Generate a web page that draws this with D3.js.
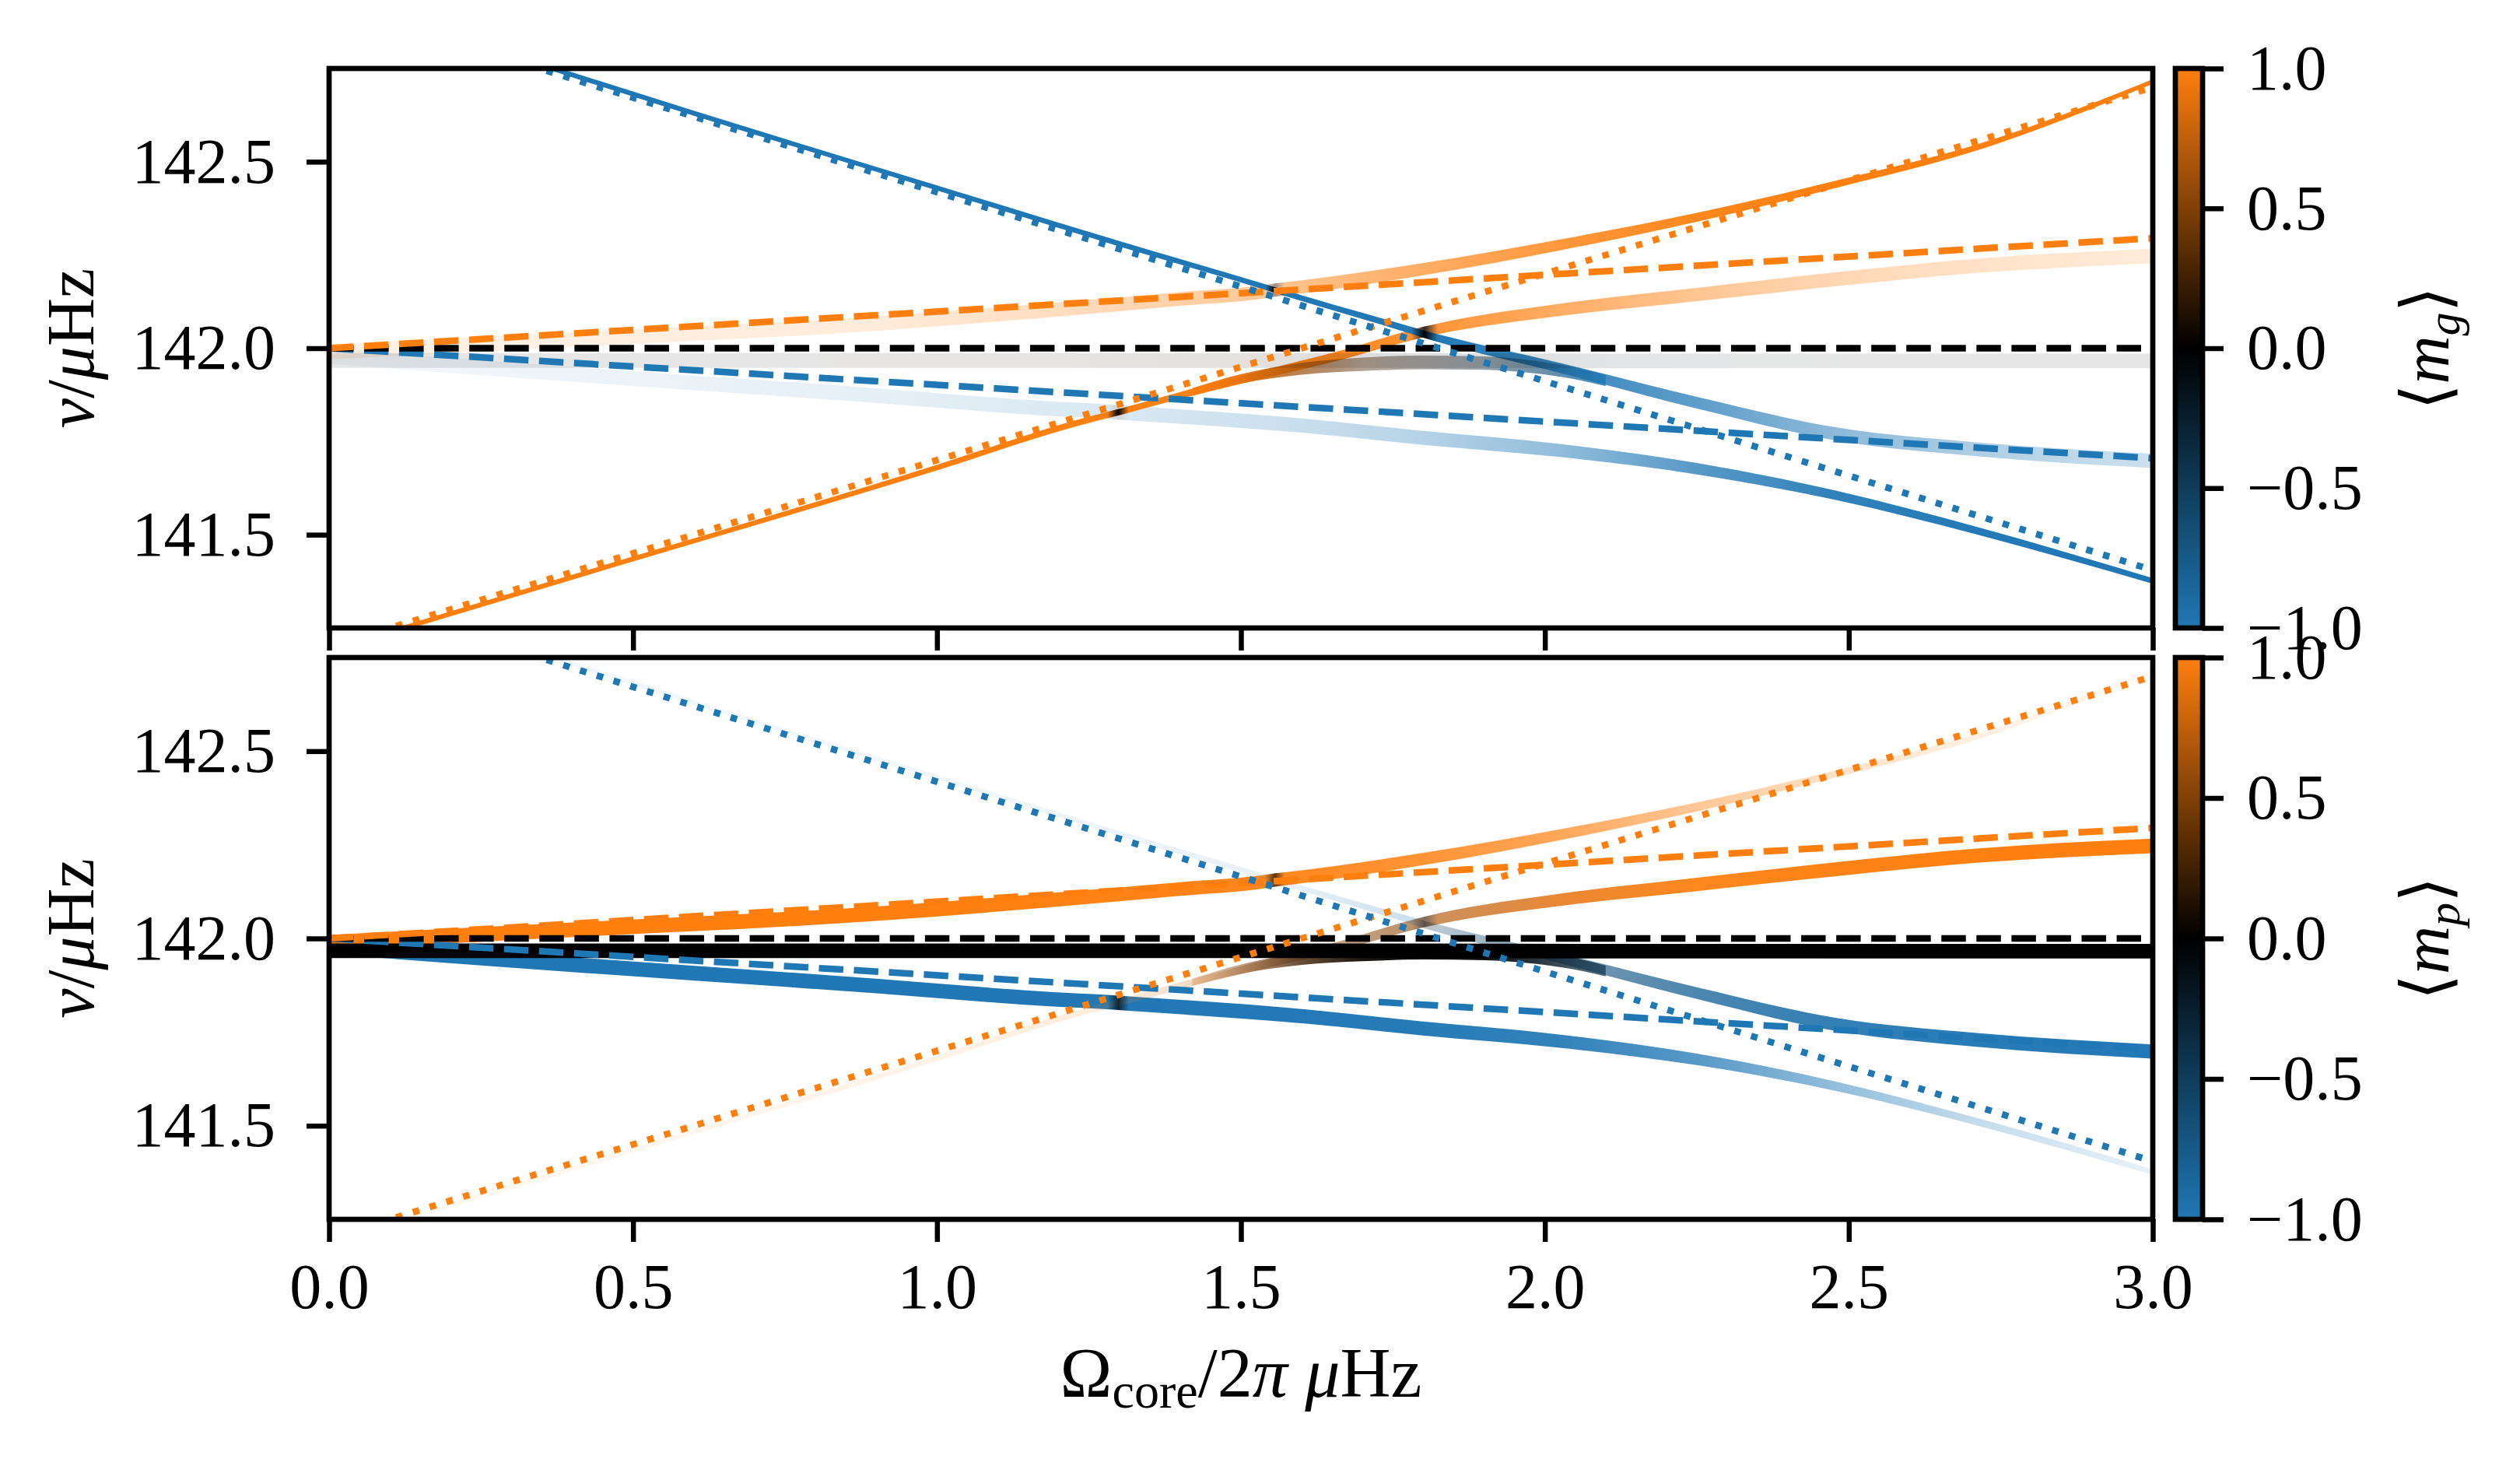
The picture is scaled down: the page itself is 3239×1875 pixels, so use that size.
<!DOCTYPE html>
<html>
<head>
<meta charset="utf-8">
<script src="https://cdn.jsdelivr.net/npm/d3@7"></script>
<style>
  body { margin: 0; background: #fff; }
  text { font-family: "Liberation Serif", "DejaVu Serif", serif; fill: #000; }
</style>
</head>
<body>
<svg id="chart" width="3239" height="1875"></svg>
<script>
// tick values
const omegaTicks = [0, 0.5, 1, 1.5, 2, 2.5, 3]
const nuTicks = [141.5, 142.0, 142.5]
const cbarTicks = [-1, -0.5, 0, 0.5, 1]

// unperturbed p modes (dashed) and g modes (dotted), value at omega = 0 and 3
const refOmega = [0, 3]
const pModes = [
  { m: -1, nu: [142.0, 141.705] },
  { m: 0, nu: [142.0, 142.0] },
  { m: 1, nu: [142.0, 142.295] }
]
const gModes = [
  { m: 1, nu: [141.20, 142.70] },
  { m: -1, nu: [142.925, 141.405] }
]

// mode tracks: omega, frequency, g-mode fraction zeta, <m_g>, <m_p>
const trackFlat = {
  omega: [0, 0.6, 1.2, 1.5, 1.8, 2.1, 2.5, 3],
  nu:    [141.967, 141.967, 141.967, 141.967, 141.967, 141.966, 141.966, 141.966],
  zeta:  [0.05, 0.05, 0.06, 0.07, 0.07, 0.06, 0.05, 0.05],
  mg:    [0, 0, 0.15, 0.2, 0, -0.15, -0.05, 0],
  mp:    [0, 0, 0, 0, 0, 0, 0, 0]
}
const trackUpper = {
  omega: [0, 0.4, 0.9, 1.2, 1.4, 1.54, 1.556, 1.572, 1.8, 2.025, 2.25, 2.48, 2.71, 3],
  nu:    [141.99, 142.023, 142.066, 142.104, 142.132, 142.152, 142.156, 142.159, 142.212, 142.277, 142.351, 142.44, 142.538, 142.715],
  zeta:  [0.06, 0.06, 0.08, 0.14, 0.2, 0.25, 0.26, 0.27, 0.4, 0.56, 0.75, 0.88, 0.94, 0.98],
  mg:    [1, 1, 1, 1, 1, 1, 0.1, 1, 1, 1, 1, 1, 1, 1],
  mp:    [1, 1, 1, 1, 1, 1, 0.3, 1, 1, 1, 1, 1, 1, 1]
}
const trackRising = {
  omega: [0, 0.5, 1.0, 1.225, 1.28, 1.298, 1.316, 1.45, 1.55, 1.664, 1.78, 1.802, 1.824, 2.025, 2.25, 2.48, 2.71, 3],
  nu:    [141.19, 141.435, 141.68, 141.797, 141.821, 141.828, 141.836, 141.895, 141.935, 141.981, 142.035, 142.044, 142.052, 142.103, 142.144, 142.185, 142.221, 142.247],
  zeta:  [0.97, 0.97, 0.95, 0.93, 0.92, 0.92, 0.92, 0.86, 0.8, 0.72, 0.62, 0.6, 0.58, 0.4, 0.26, 0.17, 0.12, 0.08],
  mg:    [1, 1, 1, 1, 1, 0, 1, 1, 1, 1, 1, 0, 1, 1, 1, 1, 1, 1],
  mp:    [1, 1, 1, 1, 1, 0.3, 1, 0.7, 0.5, 0.5, 0.6, 0.2, 0.7, 0.9, 1, 1, 1, 1]
}
const trackFalling = {
  omega: [0.3, 0.6, 1.0, 1.3, 1.54, 1.556, 1.572, 1.78, 1.802, 1.824, 2.025, 2.25, 2.48, 2.71, 3],
  nu:    [142.785, 142.63, 142.43, 142.28, 142.164, 142.156, 142.148, 142.048, 142.037, 142.027, 141.947, 141.854, 141.77, 141.729, 141.698],
  zeta:  [0.97, 0.97, 0.97, 0.96, 0.95, 0.95, 0.95, 0.88, 0.86, 0.84, 0.66, 0.47, 0.3, 0.2, 0.12],
  mg:    [-1, -1, -1, -1, -1, 0, -1, -1, 0, -1, -1, -1, -1, -1, -1],
  mp:    [-1, -1, -1, -1, -1, -0.3, -1, -1, 0, -0.6, -0.65, -0.85, -0.97, -1, -1]
}
const trackLower = {
  omega: [0, 0.4, 0.9, 1.186, 1.28, 1.298, 1.316, 1.611, 1.796, 2.018, 2.25, 2.48, 2.71, 3],
  nu:    [141.978, 141.93, 141.873, 141.838, 141.83, 141.828, 141.826, 141.791, 141.76, 141.727, 141.677, 141.605, 141.511, 141.376],
  zeta:  [0.03, 0.04, 0.06, 0.08, 0.09, 0.09, 0.09, 0.13, 0.18, 0.28, 0.5, 0.72, 0.86, 0.95],
  mg:    [-1, -1, -1, -1, -1, 0, -1, -1, -1, -1, -1, -1, -1, -1],
  mp:    [-1, -1, -1, -1, -1, -0.3, -1, -1, -1, -1, -1, -1, -1, -1]
}
const trackBump = {
  omega: [1.42, 1.5, 1.6, 1.7, 1.8, 1.9, 1.98, 2.05, 2.1],
  nu:    [141.883, 141.918, 141.945, 141.957, 141.962, 141.96, 141.95, 141.932, 141.913],
  zeta:  [0.86, 0.72, 0.45, 0.24, 0.2, 0.24, 0.36, 0.5, 0.58],
  mg:    [1, 0.9, 0.6, 0.3, 0.05, -0.3, -0.6, -0.9, -1],
  mp:    [0.8, 0.5, 0.25, 0.05, 0, -0.05, -0.15, -0.3, -0.4]
}

// layout
const plotLeft = 423, plotRight = 2767
const cbarLeft = 2796, cbarRight = 2831
const panels = [
  { y0: 88, y1: 807, key: 'mg', sub: 'g' },
  { y0: 845, y1: 1567, key: 'mp', sub: 'p' }
]
const fontSize = 82
const lw = 8.5

const svg = d3.select('#chart')
const defs = svg.append('defs')

const x = d3.scaleLinear().domain([0, 3]).range([0, plotRight - plotLeft])
const cmap = d3.scaleLinear().domain([-1, 0, 1]).range(['#1f77b4', '#000000', '#ff7f0e'])
const lineColor = m => m > 0 ? '#ff7f0e' : (m < 0 ? '#1f77b4' : '#000000')
// many overlapping markers make the alpha look stronger
const seen = a => 1 - (1 - a) * (1 - a)
const bandWidth = z => 3.8 + 15.5 * Math.sqrt(Math.max(0, 1 - z))

const tracks = [trackLower, trackUpper, trackRising, trackFalling, trackBump, trackFlat]

function styleAxis(sel) {
  sel.attr('font-size', fontSize).attr('font-family', '"Liberation Serif", serif')
  sel.select('.domain').remove()
  sel.selectAll('.tick line').attr('stroke', '#000').attr('stroke-width', 6.5)
}

panels.forEach(function(p, i) {
  const h = p.y1 - p.y0
  const y = d3.scaleLinear().domain([141.25, 142.75]).range([h, 0])

  const g = svg.append('g').attr('transform', `translate(${plotLeft},${p.y0})`)
  defs.append('clipPath').attr('id', 'clip' + i)
    .append('rect').attr('width', x(3)).attr('height', h)
  const plot = g.append('g').attr('clip-path', `url(#clip${i})`)

  // mode tracks as bands coloured by <m> and faded by mode character
  tracks.forEach(function(t, k) {
    const pts = t.omega.map((o, j) => ({ o: o, nu: t.nu[j], z: t.zeta[j], m: t[p.key][j] }))
    const grad = defs.append('linearGradient')
      .attr('id', `grad${i}_${k}`)
      .attr('gradientUnits', 'userSpaceOnUse')
      .attr('x1', 0).attr('x2', x(3)).attr('y1', 0).attr('y2', 0)
    grad.selectAll('stop').data(pts).join('stop')
      .attr('offset', d => d.o / 3)
      .attr('stop-color', d => cmap(d.m))
      .attr('stop-opacity', d => seen(i === 0 ? d.z : 1 - d.z))

    const area = d3.area()
      .x(d => x(d.o))
      .y0(d => y(d.nu) - bandWidth(d.z) / 2)
      .y1(d => y(d.nu) + bandWidth(d.z) / 2)
      .curve(d3.curveMonotoneX)
    plot.append('path').datum(pts)
      .attr('d', area)
      .attr('fill', `url(#grad${i}_${k})`)
  })

  const line = d3.line().x(d => x(d[0])).y(d => y(d[1]))

  pModes.forEach(function(pm) {
    plot.append('path')
      .datum(refOmega.map((o, j) => [o, pm.nu[j]]))
      .attr('d', line)
      .attr('fill', 'none')
      .attr('stroke', lineColor(pm.m))
      .attr('stroke-width', lw)
      .attr('stroke-dasharray', `${3.7 * lw},${1.6 * lw}`)
  })
  gModes.forEach(function(gm) {
    plot.append('path')
      .datum(refOmega.map((o, j) => [o, gm.nu[j]]))
      .attr('d', line)
      .attr('fill', 'none')
      .attr('stroke', lineColor(gm.m))
      .attr('stroke-width', lw)
      .attr('stroke-dasharray', `${lw},${1.65 * lw}`)
  })

  // axes
  g.append('g')
    .call(d3.axisLeft(y).tickValues(nuTicks).tickSize(29).tickPadding(40).tickFormat(d3.format('.1f')))
    .call(styleAxis)
  g.append('g')
    .attr('transform', `translate(0,${h})`)
    .call(d3.axisBottom(x).tickValues(omegaTicks).tickSize(29).tickPadding(27)
      .tickFormat(i === 0 ? () => '' : d3.format('.1f')))
    .call(styleAxis)
  g.append('rect')
    .attr('width', x(3)).attr('height', h)
    .attr('fill', 'none').attr('stroke', '#000').attr('stroke-width', 6.7)

  // y label
  const yl = svg.append('text')
    .attr('transform', `translate(120,${(p.y0 + p.y1) / 2}) rotate(-90)`)
    .attr('text-anchor', 'middle')
    .attr('font-size', 86)
  yl.append('tspan').attr('font-style', 'italic').text('ν')
  yl.append('tspan').text('/')
  yl.append('tspan').attr('font-style', 'italic').text('μ')
  yl.append('tspan').text('Hz')

  // colorbar
  const cw = cbarRight - cbarLeft
  const cg = svg.append('g').attr('transform', `translate(${cbarLeft},${p.y0})`)
  const cgrad = defs.append('linearGradient').attr('id', 'cbar' + i)
    .attr('x1', 0).attr('y1', 1).attr('x2', 0).attr('y2', 0)
  cgrad.selectAll('stop').data(cbarTicks).join('stop')
    .attr('offset', d => (d + 1) / 2)
    .attr('stop-color', d => cmap(d))
  cg.append('rect').attr('width', cw).attr('height', h).attr('fill', `url(#cbar${i})`)
  const cs = d3.scaleLinear().domain([-1, 1]).range([h, 0])
  cg.append('g')
    .attr('transform', `translate(${cw},0)`)
    .call(d3.axisRight(cs).tickValues(cbarTicks).tickSize(27).tickPadding(30).tickFormat(d3.format('.1f')))
    .call(styleAxis)
  cg.append('rect').attr('width', cw).attr('height', h)
    .attr('fill', 'none').attr('stroke', '#000').attr('stroke-width', 6.7)

  const cl = svg.append('text')
    .attr('transform', `translate(3147,${(p.y0 + p.y1) / 2}) rotate(-90)`)
    .attr('text-anchor', 'middle')
    .attr('font-size', 86)
  cl.append('tspan').text('⟨')
  cl.append('tspan').attr('font-style', 'italic').text('m')
  cl.append('tspan').attr('font-style', 'italic').attr('font-size', 60).attr('dy', 14).text(p.sub)
  cl.append('tspan').attr('dy', -14).text('⟩')
})

// x label
const xl = svg.append('text')
  .attr('x', (plotLeft + plotRight) / 2)
  .attr('y', 1795)
  .attr('text-anchor', 'middle')
  .attr('font-size', 90)
xl.append('tspan').text('Ω')
xl.append('tspan').attr('font-size', 64).attr('dy', 14).text('core')
xl.append('tspan').attr('dy', -14).text('/2')
xl.append('tspan').attr('font-style', 'italic').text('π')
xl.append('tspan').text('\u00a0')
xl.append('tspan').attr('font-style', 'italic').text('μ')
xl.append('tspan').text('Hz')
</script>
</body>
</html>
